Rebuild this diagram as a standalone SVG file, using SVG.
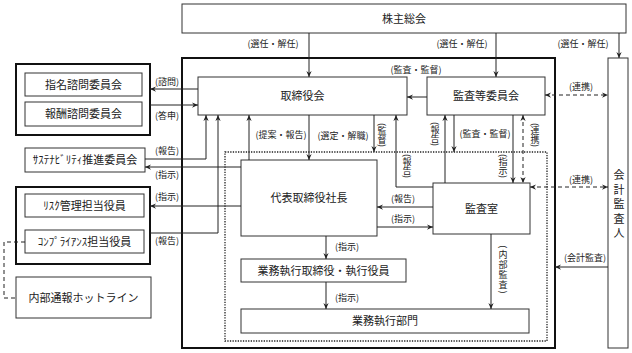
<svg xmlns="http://www.w3.org/2000/svg" width="632" height="353" viewBox="0 0 632 353">
<style>
.box{fill:#fff;stroke:#333;stroke-width:1}
.thick{fill:none;stroke:#111;stroke-width:2}
.dot{fill:none;stroke:#222;stroke-width:1.3;stroke-dasharray:1.3 1.3}
.t{font-family:"Noto Sans CJK JP","Noto Sans",sans-serif;font-size:11px;fill:#222;text-anchor:middle}
.l{font-family:"Noto Sans CJK JP","Noto Sans",sans-serif;font-size:9px;fill:#222;text-anchor:middle}
.v{writing-mode:vertical-rl}
.c{fill:none;stroke:#222;stroke-width:1}
.a{marker-end:url(#ah)}
.d{stroke-dasharray:4 3}
.b{marker-start:url(#ah);marker-end:url(#ah)}
</style>
<defs>
<marker id="ah" viewBox="0 0 8 8" refX="8" refY="4" markerWidth="6" markerHeight="6" markerUnits="userSpaceOnUse" orient="auto-start-reverse">
<path d="M0,0.5 L8,4 L0,7.5 L2.5,4 z" fill="#222"/>
</marker>
</defs>

<rect class="thick" x="182" y="58" width="373" height="290"/>
<rect class="dot" x="225" y="152" width="322" height="189"/>

<g id="kabunushi"><rect class="box" x="182" y="4" width="444" height="29"/><text class="t" x="404" y="22.5">株主総会</text></g>
<g id="advisory-group"><rect class="thick" x="16" y="64" width="134" height="71"/></g>
<g id="shimei"><rect class="box" x="25" y="73" width="117" height="23"/><text class="t" x="83.5" y="88.5">指名諮問委員会</text></g>
<g id="houshu"><rect class="box" x="25" y="102" width="117" height="24"/><text class="t" x="83.5" y="118">報酬諮問委員会</text></g>
<g id="torishimariyakukai"><rect class="box" x="198" y="77" width="209" height="38"/><text class="t" x="302.5" y="100">取締役会</text></g>
<g id="kansatouiinkai"><rect class="box" x="427" y="77" width="118" height="38"/><text class="t" x="486" y="100">監査等委員会</text></g>
<g id="sustainability"><rect class="box" x="25" y="148" width="120" height="24"/><text class="t" x="85" y="164">ｻｽﾃﾅﾋﾞﾘﾃｨ推進委員会</text></g>
<g id="officer-group"><rect class="thick" x="16" y="187" width="134" height="77"/></g>
<g id="risk"><rect class="box" x="25" y="194" width="119" height="23"/><text class="t" x="84.5" y="209.5">ﾘｽｸ管理担当役員</text></g>
<g id="compliance"><rect class="box" x="25" y="230" width="119" height="23"/><text class="t" x="84.5" y="245.5">ｺﾝﾌﾟﾗｲｱﾝｽ担当役員</text></g>
<g id="hotline"><rect class="box" x="16" y="277" width="135" height="41"/><text class="t" x="83.5" y="301.5">内部通報ホットライン</text></g>
<g id="president"><rect class="box" x="241" y="160" width="136" height="76"/><text class="t" x="309" y="202">代表取締役社長</text></g>
<g id="kansashitsu"><rect class="box" x="433" y="183" width="97" height="51"/><text class="t" x="481.5" y="212.5">監査室</text></g>
<g id="gyoumu-yakuin"><rect class="box" x="241" y="259" width="165" height="23"/><text class="t" x="323.5" y="274.5">業務執行取締役・執行役員</text></g>
<g id="gyoumu-bumon"><rect class="box" x="241" y="309" width="288" height="24"/><text class="t" x="385" y="325">業務執行部門</text></g>
<g id="kaikei"><rect class="box" x="608" y="58" width="20" height="290"/>
<text class="t"><tspan x="619" y="179">会</tspan><tspan x="619" y="193.5">計</tspan><tspan x="619" y="208">監</tspan><tspan x="619" y="222.5">査</tspan><tspan x="619" y="237">人</tspan></text></g>

<g id="connectors">
<path class="c a" d="M309,33 V77"/>
<path class="c a" d="M496,33 V77"/>
<path class="c a" d="M619,33 V58"/>
<path class="c a" d="M198,89 H150"/>
<path class="c a" d="M150,105 H198"/>
<path class="c a" d="M145,159 H206 V115"/>
<path class="c a" d="M241,167 H145"/>
<path class="c a" d="M241,206 H150"/>
<path class="c a" d="M150,233 H218 V115"/>
<path class="c a" d="M249,160 V115"/>
<path class="c a" d="M309,115 V160"/>
<path class="c a" d="M374,115 V152"/>
<path class="c a" d="M433,187 H396 V115"/>
<path class="c a" d="M427,97 H407"/>
<path class="c a" d="M445,183 V115"/>
<path class="c a" d="M454,115 V152"/>
<path class="c a" d="M513,115 V183"/>
<path class="c d b" d="M523,115 V183"/>
<path class="c d b" d="M545,95 H608"/>
<path class="c d b" d="M530,187 H608"/>
<path class="c a" d="M433,207 H377"/>
<path class="c a" d="M377,227 H433"/>
<path class="c a" d="M326,236 V259"/>
<path class="c a" d="M326,282 V309"/>
<path class="c a" d="M491,234 V309"/>
<path class="c a" d="M608,267 H555"/>
<path class="c d" d="M25,242 H4 V298 H16"/>

<text class="l" x="273" y="47">(選任・解任)</text>
<text class="l" x="462" y="47">(選任・解任)</text>
<text class="l" x="583" y="47">(選任・解任)</text>
<text class="l" x="416" y="73">(監査・監督)</text>
<text class="l" x="581" y="90">(連携)</text>
<text class="l" x="167" y="85">(諮問)</text>
<text class="l" x="167" y="119">(答申)</text>
<text class="l" x="167" y="154">(報告)</text>
<text class="l" x="167" y="178">(指示)</text>
<text class="l" x="167" y="200">(指示)</text>
<text class="l" x="167" y="244">(報告)</text>
<text class="l" x="281" y="138">(提案・報告)</text>
<text class="l" x="343" y="139">(選定・解職)</text>
<text class="l" x="485" y="137">(監査・監督)</text>
<text class="l" x="581" y="183">(連携)</text>
<text class="l" x="403" y="202">(報告)</text>
<text class="l" x="403" y="222">(指示)</text>
<text class="l" x="347" y="250">(指示)</text>
<text class="l" x="347" y="301">(指示)</text>
<text class="l" x="585" y="261">(会計監査)</text>
<text class="l v" x="382" y="135">(監督)</text>
<text class="l v" x="407" y="166">(報告)</text>
<text class="l v" x="435" y="134">(報告)</text>
<text class="l v" x="503" y="166">(指示)</text>
<text class="l v" x="535" y="135">(連携)</text>
<text class="l v" x="503" y="270" style="letter-spacing:1.2px">(内部監査)</text>
</g>
</svg>
